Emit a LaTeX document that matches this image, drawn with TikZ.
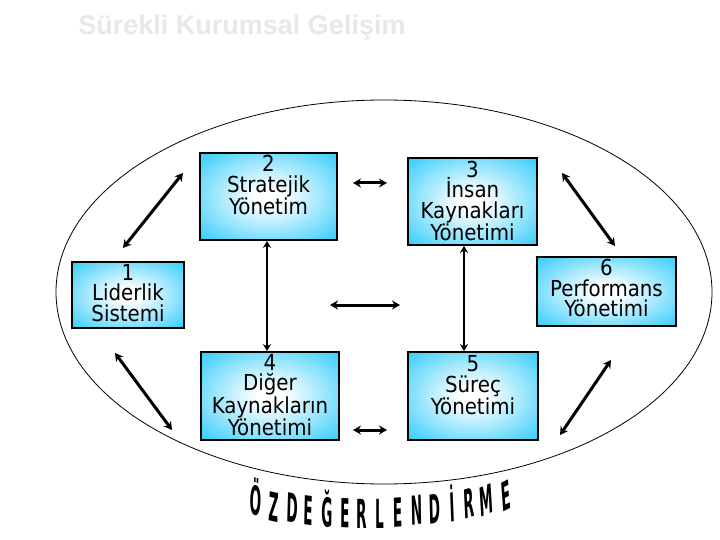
\documentclass[tikz,border=0pt]{standalone}
\usepackage{fontspec}
\setmainfont{DejaVu Sans Condensed}
\newfontfamily\titlefont{Liberation Sans}
\newfontfamily\wordfont{DejaVu Sans Condensed}
\usetikzlibrary{arrows.meta}
\definecolor{boxblue}{RGB}{35,200,250}
\pgfdeclareradialshading{boxshade}{\pgfpoint{0bp}{0bp}}{color(0bp)=(white); color(5bp)=(white); color(38bp)=(boxblue); color(50bp)=(boxblue)}
\tikzset{
  boxst/.style={draw=black, line width=1.8pt, shading=boxshade, inner sep=0pt},
  boxtext/.style={align=center, font=\fontsize{22}{20.5}\selectfont, inner sep=0pt},
  darrow/.style={line width=3pt, {Stealth[length=8pt,width=9pt]}-{Stealth[length=8pt,width=9pt]}},
  varrow/.style={line width=2.4pt, {Stealth[length=7pt,width=8pt]}-{Stealth[length=7pt,width=8pt]}},
  wordl/.style={font=\wordfont\bfseries\fontsize{40}{40}\selectfont, xscale=0.38, anchor=base, inner sep=0pt}
}
\begin{document}
\begin{tikzpicture}[x=1pt,y=-1pt]
\fill[white] (0,0) rectangle (720,540);
\useasboundingbox (0,0) rectangle (720,540);

% title
\node[font=\titlefont\bfseries\fontsize{27}{30}\selectfont, text=gray!18, inner sep=0pt] (title) at (242,28) {Sürekli Kurumsal Gelişim};

% ellipse
\draw[line width=0.8pt] (384,292) ellipse [x radius=328, y radius=192];

% boxes
\node[boxst, minimum width=137, minimum height=87] (b2) at (268.5,196.5) {};
\node[boxst, minimum width=129, minimum height=87] (b3) at (472.5,201.5) {};
\node[boxst, minimum width=112, minimum height=66] (b1) at (128,295) {};
\node[boxst, minimum width=139, minimum height=69] (b6) at (606.5,291.5) {};
\node[boxst, minimum width=138, minimum height=88] (b4) at (270,396) {};
\node[boxst, minimum width=130, minimum height=88] (b5) at (473,396) {};

\node[boxtext] (t2) at (b2.center |- 0,185) {2\\Stratejik\\Yönetim};
\node[boxtext] (t3) at (b3.center |- 0,201) {3\\İnsan\\Kaynakları\\Yönetimi};
\node[boxtext] (t1) at (b1.center |- 0,293) {1\\Liderlik\\Sistemi};
\node[boxtext] (t6) at (b6.center |- 0,288) {6\\Performans\\Yönetimi};
\node[boxtext] (t4) at (b4.center |- 0,395) {4\\Diğer\\Kaynakların\\Yönetimi};
\node[boxtext] (t5) at (b5.center |- 0,385) {5\\Süreç\\Yönetimi};

% arrow end points
\coordinate (d1a) at (123,248); \coordinate (d1b) at (183,173);
\coordinate (d2a) at (562,173); \coordinate (d2b) at (615,246);
\coordinate (d3a) at (115,353); \coordinate (d3b) at (172,430);
\coordinate (d4a) at (560,435); \coordinate (d4b) at (611,360);
\coordinate (h1a) at (353,183); \coordinate (h1b) at (387,183);
\coordinate (h2a) at (353,430); \coordinate (h2b) at (387,430);
\coordinate (h3a) at (330,305); \coordinate (h3b) at (400,305);
\coordinate (v1) at (267,0);
\coordinate (v2) at (464,0);

\draw[darrow] (d1a) -- (d1b);
\draw[darrow] (d2a) -- (d2b);
\draw[darrow] (d3a) -- (d3b);
\draw[darrow] (d4a) -- (d4b);
\draw[darrow] (h1a) -- (h1b);
\draw[darrow] (h2a) -- (h2b);
\draw[darrow] (h3a) -- (h3b);
\draw[varrow] (b2.south -| v1) -- (b4.north -| v1);
\draw[varrow] (b3.south -| v2) -- (b5.north -| v2);

% arched word
\foreach \l/\x/\y/\r [count=\i] in {Ö/255/515/-6, Z/273/522/-5, D/292/523/-4, E/308/525/-3, Ğ/327/527/-2, E/345/528/-1, R/362/528/0, L/380/528/0, E/398/527/2, N/417/525/3, D/435/523/4, İ/453/522/6, R/470/518/7, M/487/515/9, E/507/510/11}
  \node[wordl, rotate=\r] (w\i) at (\x,\y) {\l};
\end{tikzpicture}
\end{document}
